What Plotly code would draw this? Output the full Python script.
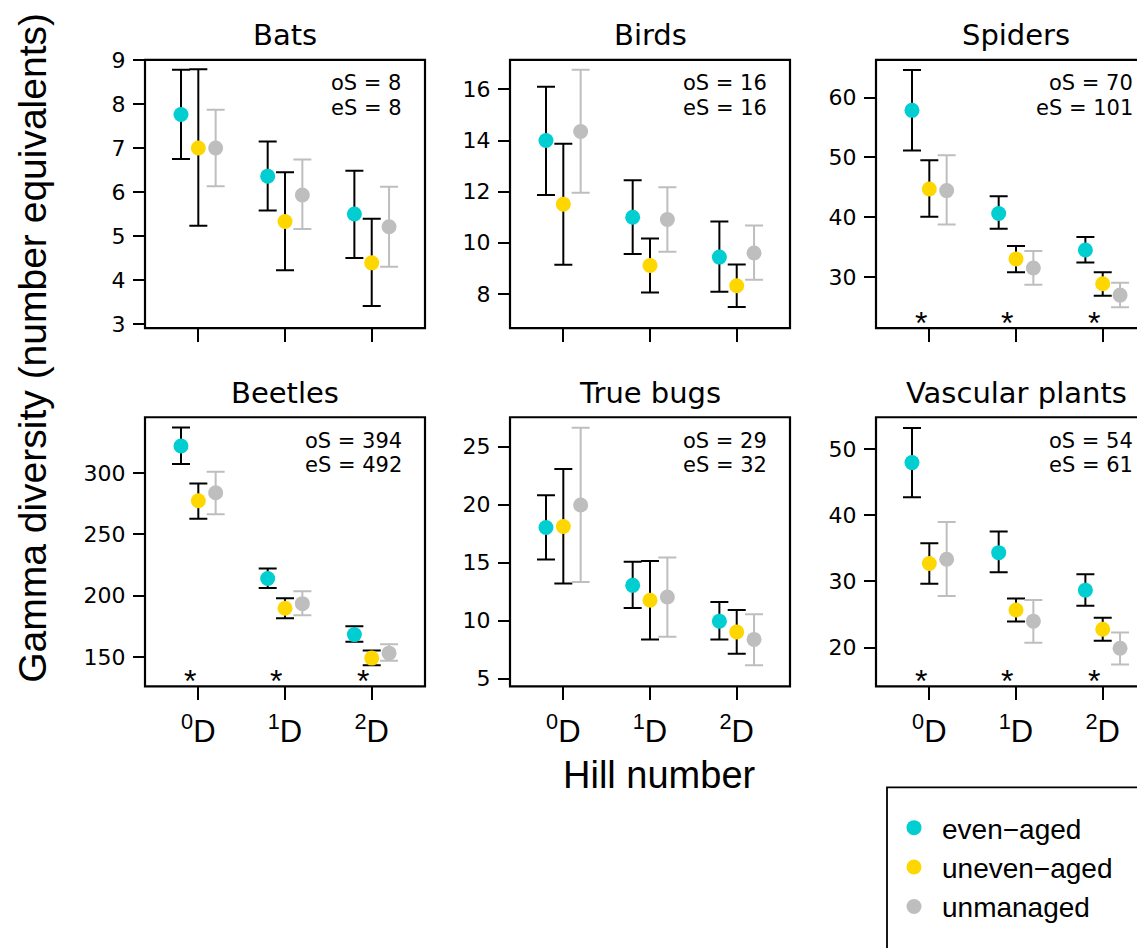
import plotly.graph_objects as go

W, H = 1137, 948

taxa = ["Bats", "Birds", "Spiders", "Beetles", "True bugs", "Vascular plants"]
hill_x = [1, 2, 3]
hill_labels = ["<sup>0</sup>D", "<sup>1</sup>D", "<sup>2</sup>D"]
groups = ["even−aged", "uneven−aged", "unmanaged"]
obs_S = [8, 16, 70, 394, 29, 54]
est_S = [8, 16, 101, 492, 32, 61]
significant = [False, False, True, True, False, True]

# rows: even-aged, uneven-aged, unmanaged; columns: 0D, 1D, 2D
bats_mean = [[7.76, 6.36, 5.50], [7.00, 5.33, 4.39], [7.00, 5.93, 5.21]]
bats_lo = [[6.75, 5.58, 4.50], [5.23, 4.22, 3.41], [6.13, 5.16, 4.30]]
bats_hi = [[8.78, 7.15, 6.48], [8.79, 6.45, 5.39], [7.87, 6.74, 6.12]]

birds_mean = [[14.00, 11.00, 9.44], [11.51, 9.11, 8.32], [14.35, 10.91, 9.60]]
birds_lo = [[11.87, 9.56, 8.09], [9.14, 8.06, 7.49], [11.96, 9.65, 8.55]]
birds_hi = [[16.10, 12.45, 10.83], [13.87, 10.17, 9.15], [16.77, 12.17, 10.68]]

spiders_mean = [[57.87, 40.60, 34.48], [44.70, 33.00, 28.85], [44.43, 31.48, 26.94]]
spiders_lo = [[51.15, 38.03, 32.40], [40.05, 30.77, 26.83], [38.74, 28.69, 24.92]]
spiders_hi = [[64.64, 43.50, 36.67], [49.50, 35.14, 30.77], [50.33, 34.32, 29.02]]

beetles_mean = [[321.8, 214.0, 168.3], [277.2, 189.8, 149.2], [283.8, 193.5, 153.2]]
beetles_lo = [[307.2, 206.3, 162.5], [262.6, 181.6, 143.4], [266.3, 184.0, 147.1]]
beetles_hi = [[336.9, 222.2, 175.2], [291.2, 197.8, 155.3], [300.8, 203.6, 160.4]]

bugs_mean = [[18.02, 13.04, 9.95], [18.11, 11.75, 9.02], [19.96, 12.03, 8.38]]
bugs_lo = [[15.27, 11.08, 8.38], [13.19, 8.38, 7.14], [13.33, 8.60, 6.15]]
bugs_hi = [[20.81, 15.07, 11.61], [23.06, 15.13, 10.91], [26.63, 15.44, 10.54]]

plants_mean = [[47.98, 34.36, 28.69], [32.73, 25.68, 22.77], [33.37, 24.00, 19.91]]
plants_lo = [[42.75, 31.40, 26.32], [29.67, 23.95, 21.04], [27.80, 20.75, 17.44]]
plants_hi = [[53.21, 37.57, 31.10], [35.79, 27.41, 24.50], [39.00, 27.21, 22.27]]

all_mean = [bats_mean, birds_mean, spiders_mean, beetles_mean, bugs_mean, plants_mean]
all_lo = [bats_lo, birds_lo, spiders_lo, beetles_lo, bugs_lo, plants_lo]
all_hi = [bats_hi, birds_hi, spiders_hi, beetles_hi, bugs_hi, plants_hi]

# ---- styling / layout ----
FONT = "Liberation Sans, Arial, sans-serif"
FONT_W = "DejaVu Sans, Liberation Sans, sans-serif"
colors = ["#00CED1", "#FFD700", "#BEBEBE"]
bar_colors = ["black", "black", "#BEBEBE"]
offsets = [-0.2, 0.0, 0.2]

col_px = [(145, 425), (510, 790), (876, 1156)]
row_px = [(49, 323), (414, 689)]
px_per_unit = 86.7
x_left = 0.385
y_ranges = [[2.905, 9.0], [6.66, 17.15], [21.4, 66.3],
            [126.1, 345.2], [4.32, 27.53], [14.12, 54.84]]
y_dticks = [(3, 1), (8, 2), (30, 10), (150, 50), (5, 5), (20, 10)]


def px(x):
    return x / W


def py(y):
    return 1 - y / H


fig = go.Figure()
layout = dict(
    width=W, height=H, margin=dict(l=0, r=0, t=0, b=0),
    paper_bgcolor="white", plot_bgcolor="white",
    font=dict(family=FONT, color="black"),
    showlegend=True,
)
annotations = []
shapes = []

for i, taxon in enumerate(taxa):
    r, c = divmod(i, 3)
    n = i + 1
    xa = "x" if n == 1 else f"x{n}"
    ya = "y" if n == 1 else f"y{n}"
    x0p, x1p = col_px[c]
    y0p, y1p = row_px[r]
    x1vis = min(x1p, W)
    for g in range(3):
        means = all_mean[i][g]
        lo = all_lo[i][g]
        hi = all_hi[i][g]
        fig.add_trace(go.Scatter(
            x=[h + offsets[g] for h in hill_x], y=means,
            mode="markers",
            marker=dict(color=colors[g], size=15, line=dict(width=0)),
            error_y=dict(type="data", symmetric=False,
                         array=[b - a for a, b in zip(means, hi)],
                         arrayminus=[a - b for a, b in zip(means, lo)],
                         color=bar_colors[g], thickness=2, width=9),
            name=groups[g], showlegend=(i == 0),
            xaxis=xa, yaxis=ya, cliponaxis=False,
        ))
    xr = [x_left, x_left + (x1vis - x0p) / px_per_unit]
    layout["xaxis" if n == 1 else f"xaxis{n}"] = dict(
        domain=[px(x0p), px(x1vis)], range=xr, anchor=ya,
        tickvals=hill_x, ticktext=hill_labels,
        showticklabels=(r == 1), ticks="outside", ticklen=13, tickwidth=2,
        tickcolor="black", showgrid=False, zeroline=False, showline=False,
        tickfont=dict(size=31, family=FONT, color="black"),
        ticklabelstandoff=4,
    )
    t0, dt = y_dticks[i]
    layout["yaxis" if n == 1 else f"yaxis{n}"] = dict(
        domain=[py(y1p), py(y0p)], range=y_ranges[i], anchor=xa,
        tick0=t0, dtick=dt, ticks="outside", ticklen=11, tickwidth=2,
        tickcolor="black", showgrid=False, zeroline=False, showline=False,
        tickfont=dict(size=22, family=FONT_W, color="black"),
        ticklabelstandoff=3,
    )
    # panel frame
    shapes.append(dict(type="rect", xref="paper", yref="paper",
                       x0=px(x0p), x1=px(x1p), y0=py(y1p), y1=py(y0p),
                       line=dict(color="black", width=2.2), layer="above"))
    # title
    annotations.append(dict(text=taxon, xref="paper", yref="paper",
                            x=px((x0p + x1p) / 2), y=py(y0p - 25),
                            xanchor="center", yanchor="middle", showarrow=False,
                            font=dict(size=29, family=FONT_W, color="black")))
    # oS / eS
    for k, txt in enumerate([f"oS = {obs_S[i]}", f"eS = {est_S[i]}"]):
        annotations.append(dict(text=txt, xref="paper", yref="paper",
                                x=px(x1p - 22), y=py(y0p + 24 + 25 * k),
                                xanchor="right", yanchor="middle", showarrow=False,
                                borderpad=0,
                                font=dict(size=21, family=FONT_W, color="black")))
    if significant[i]:
        for h in hill_x:
            annotations.append(dict(text="*", xref=xa, yref=f"{ya} domain",
                                    x=h - 0.1, y=0.02, xanchor="center",
                                    yanchor="middle", showarrow=False,
                                    font=dict(size=32, family=FONT, color="black")))

annotations.append(dict(text="Gamma diversity (number equivalents)",
                        xref="paper", yref="paper", x=px(33), y=py(343),
                        xanchor="center", yanchor="middle", textangle=-90,
                        showarrow=False, font=dict(size=39, family=FONT, color="black")))
annotations.append(dict(text="Hill number", xref="paper", yref="paper",
                        x=px(659), y=py(779), xanchor="center", yanchor="middle",
                        showarrow=False, font=dict(size=38, family=FONT, color="black")))

# legend frame
shapes.append(dict(type="rect", xref="paper", yref="paper",
                   x0=px(887), x1=px(1160), y0=py(970), y1=py(792),
                   line=dict(color="black", width=1.8)))

layout["annotations"] = annotations
layout["shapes"] = shapes
layout["legend"] = dict(x=px(886), y=py(808), xanchor="left", yanchor="top",
                        bgcolor="rgba(0,0,0,0)", borderwidth=0,
                        tracegroupgap=0, itemwidth=46,
                        font=dict(size=28, family=FONT, color="black"),
                        itemsizing="trace")
fig.update_layout(**layout)
fig.write_html("out.html")
